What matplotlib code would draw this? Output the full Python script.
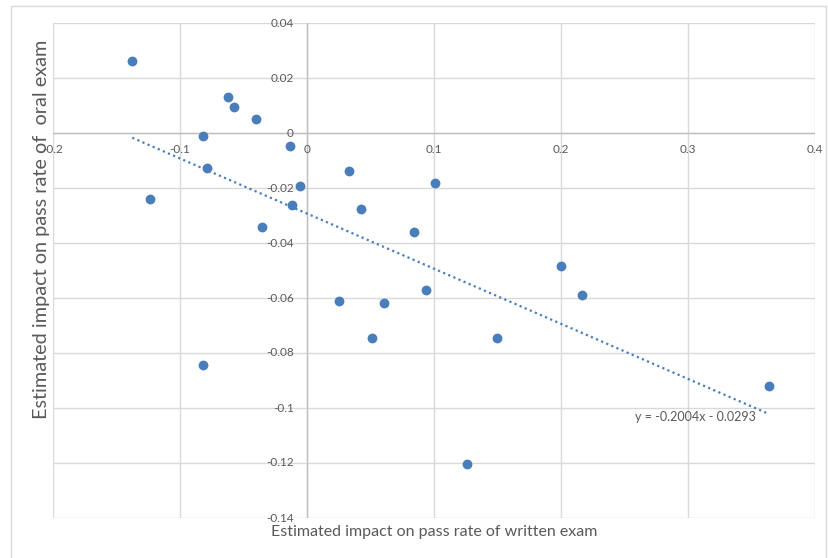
import matplotlib
matplotlib.use("Agg")
import matplotlib.pyplot as plt
import numpy as np
from matplotlib.patches import Rectangle

plt.rcParams['font.family'] = ['Lato', 'DejaVu Sans']

written = [-0.1376, -0.1234, -0.0625, -0.0572, -0.0404, -0.0816, -0.0790, -0.0131,
           -0.0055, -0.0121, -0.0354, 0.0328, 0.0428, 0.0845, 0.1008, 0.1998,
           -0.0816, 0.0254, 0.0609, 0.0514, 0.0937, 0.2165, 0.1494, 0.3635, 0.1262]
oral = [0.0263, -0.0240, 0.0132, 0.0096, 0.0051, -0.0011, -0.0127, -0.0046,
        -0.0193, -0.0263, -0.0342, -0.0139, -0.0275, -0.0359, -0.0183, -0.0482,
        -0.0845, -0.0611, -0.0618, -0.0747, -0.0572, -0.0588, -0.0744, -0.0921, -0.1204]
slope = -0.2004
intercept = -0.0293
eq_label = "y = -0.2004x - 0.0293"
x_ticks = [-0.2, -0.1, 0, 0.1, 0.2, 0.3, 0.4]
x_tick_labels = ["-0.2", "-0.1", "0", "0.1", "0.2", "0.3", "0.4"]
y_ticks = [-0.14, -0.12, -0.1, -0.08, -0.06, -0.04, -0.02, 0, 0.02, 0.04]
y_tick_labels = ["-0.14", "-0.12", "-0.1", "-0.08", "-0.06", "-0.04", "-0.02", "0", "0.02", "0.04"]
x_title = "Estimated impact on pass rate of written exam"
y_title = "Estimated impact on pass rate of  oral exam"

W, H = 829, 558
fig = plt.figure(figsize=(W / 100, H / 100), dpi=100)
L, R, T, B = 53, 815, 23, 518
ax = fig.add_axes([L / W, 1 - B / H, (R - L) / W, (B - T) / H])

# outer chart border
fig.patches.append(Rectangle((11 / W, -0.01), (826 - 11) / W, 1 - 5.5 / H + 0.01,
                             transform=fig.transFigure, fill=False,
                             edgecolor='#d9d9d9', linewidth=1))

ax.set_xlim(-0.2, 0.4)
ax.set_ylim(-0.14, 0.04)
for s in ax.spines.values():
    s.set_visible(False)
ax.set_xticks(x_ticks)
ax.set_yticks(y_ticks)
ax.tick_params(length=0, labelbottom=False, labelleft=False)
ax.grid(True, color='#d9d9d9', linewidth=1)
ax.set_axisbelow(True)

# axis lines at zero
ax.axhline(0, color='#bfbfbf', linewidth=1, zorder=1.5)
ax.axvline(0, color='#bfbfbf', linewidth=1, zorder=1.5)

tc = '#595959'
for xv, lab in zip(x_ticks, x_tick_labels):
    ax.annotate(lab, (xv, 0), xytext=(0, -11), textcoords='offset pixels',
                ha='center', va='top', fontsize=8.5, color=tc)
for yv, lab in zip(y_ticks, y_tick_labels):
    ax.annotate(lab, (0, yv), xytext=(-13, 0), textcoords='offset pixels',
                ha='right', va='center', fontsize=8.5, color=tc)

ax.scatter(written, oral, s=50, color='#4a7ebb', zorder=3, linewidths=0)

xs = np.array([min(written), max(written)])
ax.plot(xs, slope * xs + intercept, linestyle=(0, (1, 1.5)), color='#4a7ebb',
        linewidth=1.6, zorder=2.5)

ax.annotate(eq_label, (0.3635, slope * 0.3635 + intercept), xytext=(-13, -3),
            textcoords='offset pixels', ha='right', va='center', fontsize=9, color=tc)

fig.text(434.5 / W, 1 - 532 / H, x_title, ha='center', va='center', fontsize=11.5, color=tc)
fig.text(42 / W, 1 - 229 / H, y_title, ha='center', va='center', rotation=90,
         fontsize=14.3, color=tc)

fig.savefig("out.png", dpi=100)
